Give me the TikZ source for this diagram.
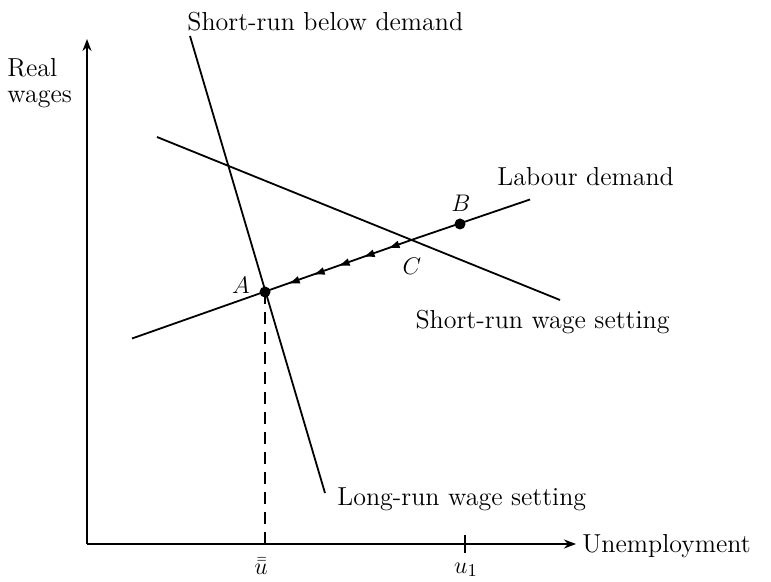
\documentclass[tikz,border=0pt]{standalone}
\usepackage{amsmath}
\usetikzlibrary{arrows.meta,positioning,calc,decorations.markings}

\begin{document}
\begin{tikzpicture}[x=0.5pt,y=-0.5pt,
    lbl/.style={font=\fontsize{13}{13}\selectfont,inner sep=0pt},
    curve/.style={line width=0.9pt},
    ax/.style={-{Stealth[length=6pt,width=4.5pt]},line width=0.9pt},
    dot/.style={circle,fill,inner sep=0pt,minimum size=5.5pt},
    flow/.style={curve,postaction={decorate},decoration={markings,
      mark=between positions 0.17 and 0.86 step 0.169 with {\arrow{Latex[length=6pt,width=4pt]}}}}]
    \useasboundingbox (0,0) rectangle (771,582);
    % axes
    \coordinate (O) at (87,544);
    \coordinate (yend) at (87,39);
    \coordinate (xend) at (576,544);
    \draw[ax] (O)--(yend);
    \draw[ax] (O)--(xend);
    \node[lbl,anchor=west,align=left] (ylab) at (7,83) {Real\\wages};
    \node[lbl,anchor=west] (xlab) at (582,546) {Unemployment};
    % schedules
    \coordinate (A) at (265,292);
    \coordinate (B) at (460,224);
    \coordinate (C) at (412.7,239.5);
    \coordinate (sbTop) at (190,36);
    \coordinate (sbBot) at (325,493);
    \coordinate (swL) at (157,137);
    \coordinate (swR) at (560,300);
    \coordinate (ldL) at (132,338.5);
    \coordinate (ldR) at (530,199.5);
    \draw[curve] (sbTop)--(sbBot);
    \draw[curve] (swL)--(swR);
    \draw[curve] (ldL)--(C);
    \draw[curve] (C)--(ldR);
    \path[flow] (C)--(A);
    \draw[curve,dash pattern=on 6pt off 4pt] (A)--(A |- O);
    \node[dot] (ptA) at (A) {};
    \node[dot] (ptB) at (B) {};
    % labels
    \node[lbl,anchor=west] (sbLab) at (187,22) {Short-run below demand};
    \node[lbl,anchor=west] (ldLab) at (497,177) {Labour demand};
    \node[lbl,anchor=east] (swLab) at (670,322) {Short-run wage setting};
    \node[lbl,anchor=west] (lwLab) at (337,499) {Long-run wage setting};
    \node[lbl] (labA) at (241,285) {$A$};
    \node[lbl] (labB) at (461,203) {$B$};
    \node[lbl] (labC) at (412,266) {$C$};
    % ticks
    \coordinate (u1) at (465,544);
    \draw[curve] (A |- O) -- ++(0,-9);
    \draw[curve] (u1) ++(0,-9) -- ++(0,18);
    \node[lbl] (labU) at ($(A |- O)+(-4,22)$) {$\bar{\bar{u}}$};
    \node[lbl] (labU1) at ($(u1)+(1,26)$) {$u_1$};
\end{tikzpicture}
\end{document}
